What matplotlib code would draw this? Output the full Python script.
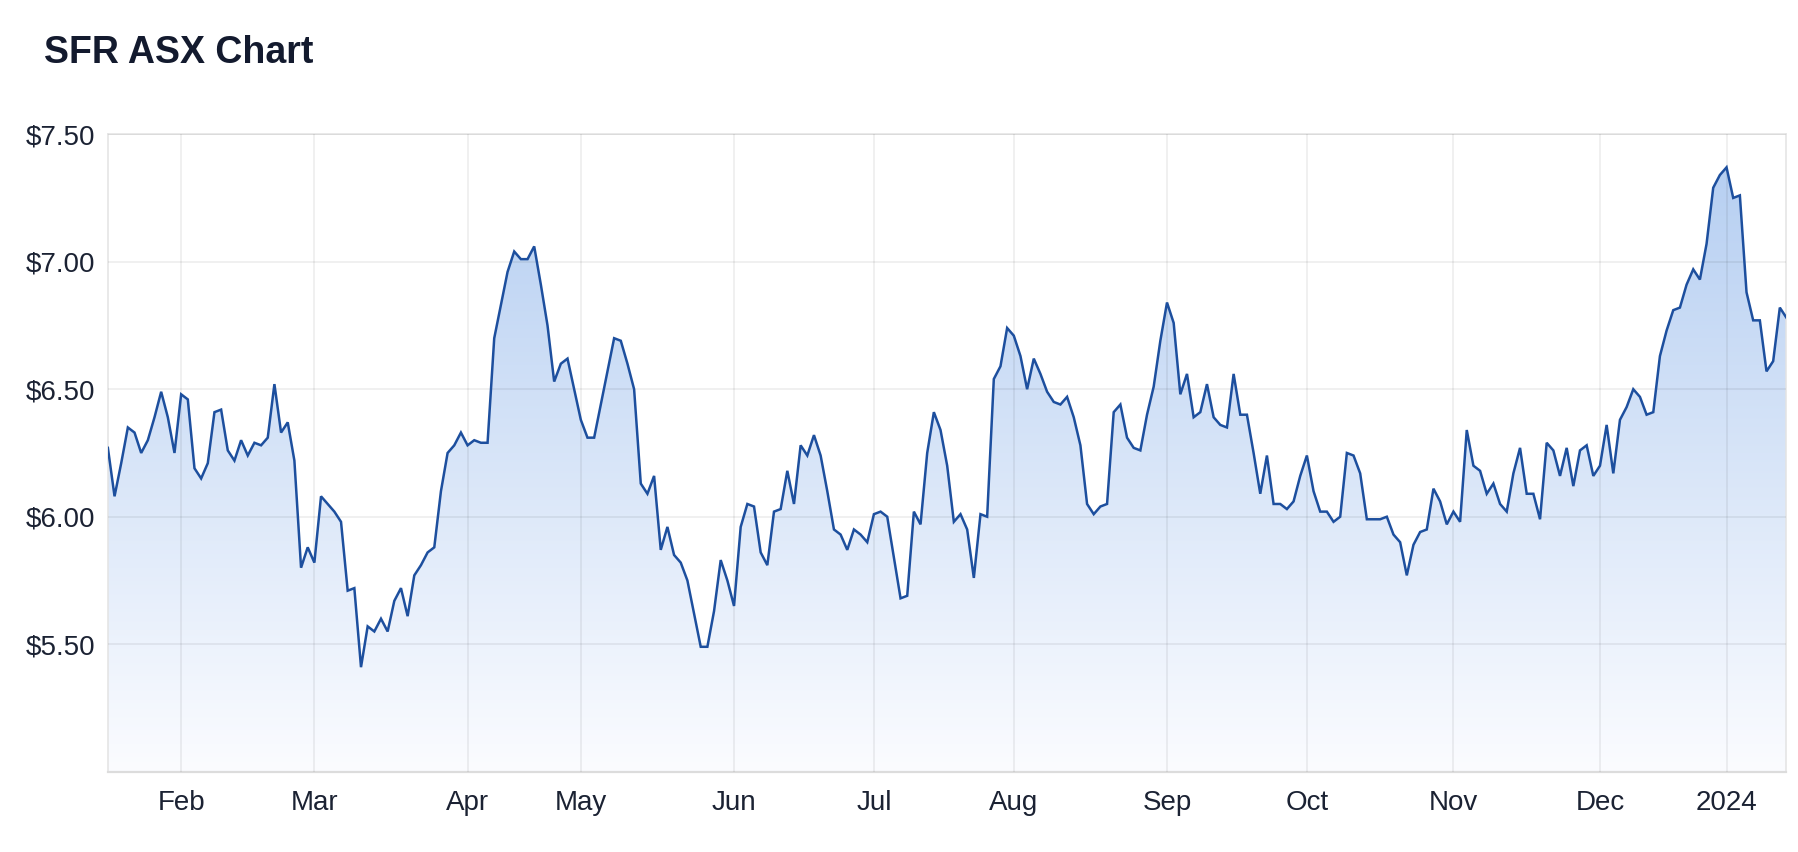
import matplotlib
matplotlib.use("Agg")
import matplotlib.pyplot as plt
from matplotlib.colors import LinearSegmentedColormap
import numpy as np
import pandas as pd

# SFR daily close, ASX trading days 16 Jan 2023 - 15 Jan 2024
start_date = "2023-01-16"
end_date = "2024-01-15"
asx_holidays = ["2023-01-26", "2023-04-07", "2023-04-10", "2023-04-25",
                "2023-06-12", "2023-12-25", "2023-12-26", "2024-01-01"]

prices = [
    6.27, 6.08, 6.21, 6.35, 6.33, 6.25, 6.30, 6.39, 6.49, 6.39,
    6.25, 6.48, 6.46, 6.19, 6.15, 6.21, 6.41, 6.42, 6.26, 6.22,
    6.30, 6.24, 6.29, 6.28, 6.31, 6.52, 6.33, 6.37, 6.22, 5.80,
    5.88, 5.82, 6.08, 6.05, 6.02, 5.98, 5.71, 5.72, 5.41, 5.57,
    5.55, 5.60, 5.55, 5.67, 5.72, 5.61, 5.77, 5.81, 5.86, 5.88,
    6.10, 6.25, 6.28, 6.33, 6.28, 6.30, 6.29, 6.29, 6.70, 6.83,
    6.96, 7.04, 7.01, 7.01, 7.06, 6.91, 6.75, 6.53, 6.60, 6.62,
    6.50, 6.38, 6.31, 6.31, 6.44, 6.57, 6.70, 6.69, 6.60, 6.50,
    6.13, 6.09, 6.16, 5.87, 5.96, 5.85, 5.82, 5.75, 5.62, 5.49,
    5.49, 5.63, 5.83, 5.75, 5.65, 5.96, 6.05, 6.04, 5.86, 5.81,
    6.02, 6.03, 6.18, 6.05, 6.28, 6.24, 6.32, 6.24, 6.10, 5.95,
    5.93, 5.87, 5.95, 5.93, 5.90, 6.01, 6.02, 6.00, 5.84, 5.68,
    5.69, 6.02, 5.97, 6.25, 6.41, 6.34, 6.20, 5.98, 6.01, 5.95,
    5.76, 6.01, 6.00, 6.54, 6.59, 6.74, 6.71, 6.63, 6.50, 6.62,
    6.56, 6.49, 6.45, 6.44, 6.47, 6.39, 6.28, 6.05, 6.01, 6.04,
    6.05, 6.41, 6.44, 6.31, 6.27, 6.26, 6.40, 6.51, 6.69, 6.84,
    6.76, 6.48, 6.56, 6.39, 6.41, 6.52, 6.39, 6.36, 6.35, 6.56,
    6.40, 6.40, 6.25, 6.09, 6.24, 6.05, 6.05, 6.03, 6.06, 6.16,
    6.24, 6.10, 6.02, 6.02, 5.98, 6.00, 6.25, 6.24, 6.17, 5.99,
    5.99, 5.99, 6.00, 5.93, 5.90, 5.77, 5.89, 5.94, 5.95, 6.11,
    6.06, 5.97, 6.02, 5.98, 6.34, 6.20, 6.18, 6.09, 6.13, 6.05,
    6.02, 6.17, 6.27, 6.09, 6.09, 5.99, 6.29, 6.26, 6.16, 6.27,
    6.12, 6.26, 6.28, 6.16, 6.20, 6.36, 6.17, 6.38, 6.43, 6.50,
    6.47, 6.40, 6.41, 6.63, 6.73, 6.81, 6.82, 6.91, 6.97, 6.93,
    7.07, 7.29, 7.34, 7.37, 7.25, 7.26, 6.88, 6.77, 6.77, 6.57,
    6.61, 6.82, 6.78,
]

month_labels = ["Feb", "Mar", "Apr", "May", "Jun", "Jul", "Aug", "Sep",
                "Oct", "Nov", "Dec", "2024"]
y_ticks = [5.50, 6.00, 6.50, 7.00, 7.50]
y_min, y_max = 5.0, 7.5

dates = pd.bdate_range(start_date, end_date)
dates = dates[~dates.isin(pd.to_datetime(asx_holidays))]
x = np.arange(len(prices))

# first trading day of each month after the first
month_starts = [i for i in range(1, len(dates)) if dates[i].month != dates[i - 1].month]

plt.rcParams['font.family'] = ['Liberation Sans', 'DejaVu Sans']

fig = plt.figure(figsize=(17.98, 8.52), dpi=100)
ax = fig.add_axes([0.060, 0.0942, 0.9336, 0.7483])

line_color = "#1d4f9e"

fill = ax.fill_between(x, prices, y_min, color="none", lw=0)
cmap = LinearSegmentedColormap.from_list("fade", ["#fbfcff", "#b3cdf1"])
grad = np.linspace(0, 1, 256).reshape(-1, 1)
img = ax.imshow(grad, extent=[x[0], x[-1], y_min, y_max], origin="lower",
                aspect="auto", cmap=cmap, zorder=1, interpolation="bicubic")
img.set_clip_path(fill.get_paths()[0], transform=ax.transData)

ax.plot(x, prices, color=line_color, lw=1.8, zorder=3, solid_joinstyle="miter")

ax.set_xlim(0, len(prices) - 1)
ax.set_ylim(y_min, y_max)
ax.set_xticks(month_starts)
ax.set_xticklabels(month_labels)
ax.set_yticks(y_ticks)
ax.set_yticklabels(["${:.2f}".format(v) for v in y_ticks])

ax.set_axisbelow(False)
ax.grid(True, color="#000000", alpha=0.08, lw=1.1, zorder=2)
for side in ax.spines:
    ax.spines[side].set_color("#e3e3e3")
    ax.spines[side].set_linewidth(1.1)
ax.spines["bottom"].set_color("#dcdcdc")
ax.spines["bottom"].set_linewidth(1.6)

ax.tick_params(axis="both", length=0, labelsize=20, colors="#1b2233")
ax.tick_params(axis="y", pad=9)
ax.tick_params(axis="x", pad=13)

fig.text(0.0245, 0.938, "SFR ASX Chart", fontsize=27, fontweight="bold",
         color="#131a2e", va="center", ha="left")

fig.savefig("out.png", dpi=100, facecolor="white")
